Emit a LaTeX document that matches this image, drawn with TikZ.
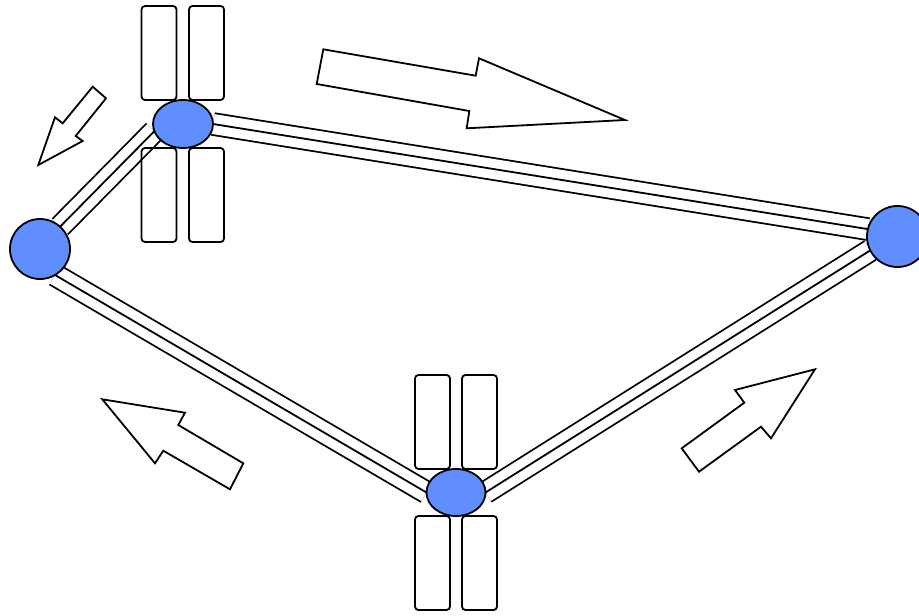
\documentclass[tikz,border=0pt]{standalone}
\usepackage{tikz}
\usetikzlibrary{shapes,positioning,backgrounds}
\usepackage{xcolor}
\definecolor{satblue}{RGB}{97,142,255}
\tikzstyle{sat} = [ellipse, draw=black, fill=satblue, line width=1.8pt, inner sep=0pt, outer sep=0pt]
\tikzstyle{panel} = [rectangle, draw=black, rounded corners=3.5pt, line width=1.8pt, minimum width=35pt, minimum height=94pt, inner sep=0pt, outer sep=0pt]
\tikzstyle{rail} = [draw=black, line width=1.8pt, double=white, double distance=20pt]
\tikzstyle{railmid} = [draw=black, line width=1.8pt]
\tikzstyle{bigarrow} = [draw=black, fill=white, line width=1.8pt, line join=miter]

\begin{document}
\begin{tikzpicture}[x=1pt, y=-1pt]
    \useasboundingbox (0,0) rectangle (919,616);

    % Satellites and hubs
    \node[sat, minimum width=60pt, minimum height=48pt] (satTop) at (183,124) {};
    \node[sat, minimum width=59pt, minimum height=47pt] (satBot) at (456,492.5) {};
    \node[sat, minimum size=60pt] (hubW) at (40,249) {};
    \node[sat, minimum size=61pt] (hubE) at (897.5,236.5) {};

    % Solar panels, top satellite
    \node[panel, above left=0pt and 6.5pt of satTop.north] (satTop-nw) {};
    \node[panel, above right=0pt and 6pt of satTop.north] (satTop-ne) {};
    \node[panel, below left=0pt and 6.5pt of satTop.south] (satTop-sw) {};
    \node[panel, below right=0pt and 6pt of satTop.south] (satTop-se) {};

    % Solar panels, bottom satellite
    \node[panel, above left=0pt and 6pt of satBot.north] (satBot-nw) {};
    \node[panel, above right=0pt and 6pt of satBot.north] (satBot-ne) {};
    \node[panel, below left=0pt and 6pt of satBot.south] (satBot-sw) {};
    \node[panel, below right=0pt and 6pt of satBot.south] (satBot-se) {};

    % Links
    \begin{pgfonlayer}{background}
        \draw[rail] (satTop.east) -- (hubE.166);
        \draw[railmid] (satTop.east) -- (hubE.166);
        \draw[rail] (satTop.194) -- (hubW.48);
        \draw[railmid] (satTop.194) -- (hubW.48);
        \draw[rail] (hubW.300) -- (satBot.west);
        \draw[railmid] (hubW.300) -- (satBot.west);
        \draw[rail] (satBot.east) -- (hubE.207);
        \draw[railmid] (satBot.east) -- (hubE.207);
    \end{pgfonlayer}

    % Direction arrows
    \draw[bigarrow] (323.3,49.3) -- (475.7,75.7) -- (479,58.3) -- (625,120)
        -- (466.7,128.3) -- (469.3,111) -- (316.7,84) -- cycle;
    \draw[bigarrow] (815,369.3) -- (771,438.3) -- (761,426.7) -- (699,471.7)
        -- (681.7,448.3) -- (744.3,402.7) -- (735,390) -- cycle;
    \draw[bigarrow] (102.3,399.3) -- (185,412.7) -- (178.3,425) -- (243.3,463.3)
        -- (230,489.3) -- (163.3,450.7) -- (155,463.3) -- cycle;
    \draw[bigarrow] (92.7,86.7) -- (106,98.3) -- (75.7,136) -- (82.7,141)
        -- (38.3,165) -- (55,117.3) -- (62.7,123.3) -- cycle;
\end{tikzpicture}
\end{document}
